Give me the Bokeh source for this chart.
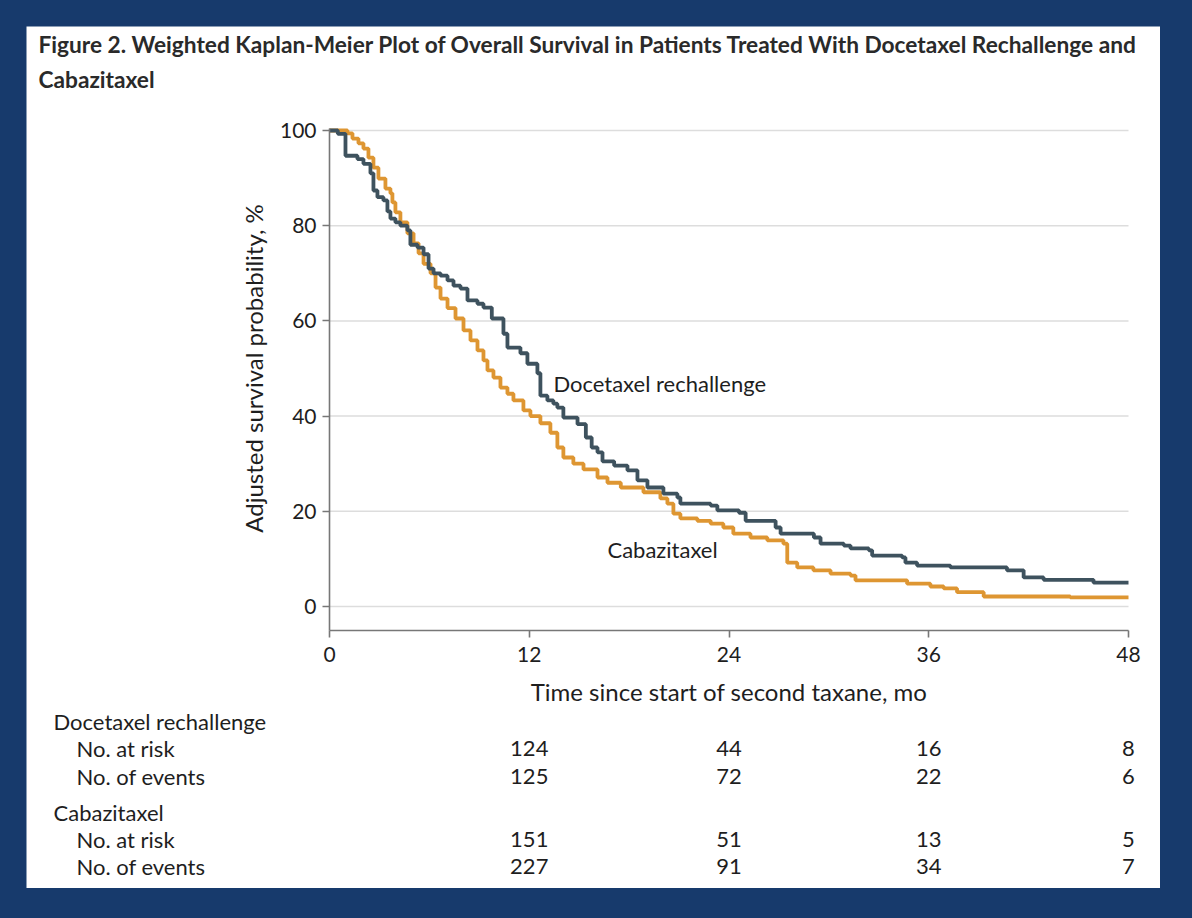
import math
from bokeh.plotting import figure
from bokeh.models import FixedTicker, Range1d, GlobalInlineStyleSheet
from bokeh.layouts import column
from bokeh.core.properties import value
from bokeh.embed import file_html
from bokeh.resources import INLINE

# ---------------- data ----------------
doc_t = [0, 0.5, 0.96, 1.68, 2.04, 2.46, 2.64, 2.88, 3.24, 3.48, 3.66, 3.96, 4.26, 4.68, 4.86,
         5.29, 5.65, 5.95, 6.25, 6.67, 7.09, 7.45, 7.87, 8.29, 8.89, 9.25, 9.75, 10.45, 10.69,
         11.47, 11.89, 12.49, 12.67, 13.09, 13.45, 13.69, 14.05, 14.9, 15.4, 15.75, 16.1, 16.4,
         17.1, 17.9, 18.5, 19.1, 20.06, 20.9, 21.08, 22.9, 23.3, 24.6, 25.0, 26.8, 27.1, 29.1,
         29.5, 30.9, 31.3, 32.4, 32.6, 34.4, 34.6, 35.3, 37.3, 40.7, 41.7, 42.9, 45.9, 48]
doc_s = [100, 99.3, 94.7, 94.0, 93.0, 91.0, 87.4, 86.0, 85.3, 83.0, 81.5, 80.7, 80.0, 79.0, 76.0,
         75.4, 74.0, 71.0, 70.0, 69.5, 68.5, 67.4, 66.8, 64.3, 63.6, 62.8, 60.5, 57.3, 54.4,
         53.2, 51.0, 49.0, 44.3, 43.3, 42.6, 41.8, 39.7, 38.3, 35.5, 33.4, 32.4, 30.5,
         29.6, 28.6, 26.5, 25.0, 23.7, 22.9, 21.6, 21.2, 20.2, 19.7, 18.0, 16.6, 15.3, 14.5,
         13.2, 12.8, 12.2, 11.8, 10.7, 10.3, 9.2, 8.6, 8.2, 7.6, 6.1, 5.6, 5.0, 5.0]

cab_t = [0, 1.08, 1.38, 1.74, 2.04, 2.34, 2.64, 2.94, 3.36, 3.66, 3.78, 3.96, 4.26, 4.68, 5.05,
         5.35, 5.65, 6.07, 6.37, 6.67, 7.09, 7.57, 8.05, 8.47, 8.89, 9.25, 9.49, 9.85, 10.27,
         10.69, 11.05, 11.65, 12.07, 12.67, 13.27, 13.69, 14.05, 14.65, 15.26, 16.1, 16.7, 17.5,
         18.86, 19.88, 20.3, 20.66, 21.08, 22.1, 22.9, 23.66, 24.26, 25.29, 26.3, 27.27, 27.5,
         28.1, 29.07, 30.1, 31.3, 31.6, 34.7, 36.1, 36.9, 37.7, 39.3, 44.5, 48]
cab_s = [100, 99.4, 98.3, 97.3, 96.2, 94.3, 92.2, 89.9, 87.8, 86.8, 84.9, 82.8, 80.7, 78.4, 76.3,
         74.2, 72.0, 70.0, 67.0, 64.7, 62.7, 60.5, 58.0, 55.9, 53.8, 51.7, 49.6, 48.1, 46.0,
         44.7, 43.3, 41.2, 40.0, 38.5, 36.5, 33.4, 31.3, 30.0, 28.8, 27.1, 26.0, 25.0,
         24.0, 22.7, 21.6, 19.5, 18.5, 18.0, 17.4, 16.6, 15.3, 14.5, 13.9, 13.2, 9.2,
         8.2, 7.6, 6.9, 6.5, 5.5, 4.8, 4.2, 3.8, 3.0, 2.1, 1.9, 1.9]

x_ticks = [0, 12, 24, 36, 48]
y_ticks = [0, 20, 40, 60, 80, 100]

risk_times = [12, 24, 36, 48]
doc_at_risk = ["124", "44", "16", "8"]
doc_events = ["125", "72", "22", "6"]
cab_at_risk = ["151", "51", "13", "5"]
cab_events = ["227", "91", "34", "7"]

title_lines = ["Figure 2.  Weighted Kaplan-Meier Plot of Overall Survival in Patients Treated With Docetaxel Rechallenge and",
               "Cabazitaxel"]
group_names = ["Docetaxel rechallenge", "Cabazitaxel"]
row_names = ["No. at risk", "No. of events"]
x_label = "Time since start of second taxane, mo"
y_label = "Adjusted survival probability, %"

# ---------------- styles / geometry ----------------
FONT = "Lato"
NAVY = "#173A6C"
DOC_COLOR = "#3E525E"
CAB_COLOR = "#DE9632"
TEXT = "#1E1E1E"
PANEL_W, PANEL_H = 1134, 862
PX_X = 799 / 48.0          # pixels per month
PX_Y = 476 / 100.0         # pixels per percent
X0_PX, Y0_PX = 303, 580    # position of (0 mo, 0 %) inside the panel


def mx(px):   # panel x pixel -> months
    return (px - X0_PX) / PX_X


def my(py):   # panel y pixel (from top) -> percent
    return (Y0_PX - py) / PX_Y


p = figure(width=PANEL_W, height=PANEL_H, output_backend="svg", toolbar_location=None,
           title=None, x_range=Range1d(mx(0), mx(PANEL_W)), y_range=Range1d(my(PANEL_H), my(0)),
           min_border_left=0, min_border_right=0, min_border_top=0, min_border_bottom=0)
p.outline_line_color = None
p.background_fill_color = "white"
p.border_fill_color = "white"
p.grid.visible = False

# axes drawn by Bokeh at fixed locations inside the panel
p.xaxis.fixed_location = -5.04
p.yaxis.fixed_location = 0
p.xaxis.bounds = (0, 48)
p.yaxis.bounds = (-5.04, 100.4)
p.xaxis.ticker = FixedTicker(ticks=x_ticks)
p.yaxis.ticker = FixedTicker(ticks=y_ticks)
for ax in (p.xaxis, p.yaxis):
    ax.axis_line_color = "#777777"
    ax.axis_line_width = 1.6
    ax.major_tick_line_color = "#777777"
    ax.major_tick_line_width = 1.6
    ax.major_tick_in = 0
    ax.major_tick_out = 7
    ax.minor_tick_line_color = None
    ax.major_label_text_font = FONT
    ax.major_label_text_font_size = "21px"
    ax.major_label_text_color = TEXT
p.xaxis.major_label_standoff = 10
p.yaxis.major_label_standoff = 6

# horizontal grid lines at the y ticks, spanning the time axis only
p.segment(x0=[0] * len(y_ticks), x1=[48] * len(y_ticks), y0=y_ticks, y1=y_ticks,
          line_color="#DDDDDD", line_width=1.5)

p.step(cab_t, cab_s, mode="after", line_color=CAB_COLOR, line_width=3.8)
p.step(doc_t, doc_s, mode="after", line_color=DOC_COLOR, line_width=3.8)


def txt(xs, ys, texts, size="22px", align="left", bold=False, angle=0.0, color=TEXT):
    p.text(x=xs, y=ys, text=texts, text_font=value(FONT), text_font_size=value(size),
           text_font_style="bold" if bold else "normal", text_color=color,
           text_align=align, text_baseline="middle", angle=angle)


# curve labels
txt([13.45, 16.7], [46.8, 12.0], group_names)

# axis labels
txt([24.0], [my(665)], [x_label], size="24px", align="center")
txt([mx(227)], [50.0], [y_label], size="24px", align="center", angle=math.pi / 2)

# title
txt([mx(12), mx(12)], [my(18), my(53)], title_lines, size="22.7px", bold=True, color="#2A2A2A")

# risk table
row_y = [my(695), my(722), my(750), my(786), my(813), my(840)]
txt([mx(27), mx(27)], [row_y[0], row_y[3]], group_names)
txt([mx(50)] * 4, [row_y[1], row_y[2], row_y[4], row_y[5]], row_names * 2)
num_x, num_y, num_txt = [], [], []
for rows, yy in ((doc_at_risk, row_y[1]), (doc_events, row_y[2]),
                 (cab_at_risk, row_y[4]), (cab_events, row_y[5])):
    for t, s in zip(risk_times, rows):
        num_x.append(t)
        num_y.append(yy)
        num_txt.append(s)
txt(num_x, num_y, num_txt, align="center")

layout = column(p, styles={"background-color": NAVY, "padding": "26px 32px 30px 26px"},
                stylesheets=[GlobalInlineStyleSheet(css="html, body { background-color: #173A6C; }")])

open("out.html", "w").write(file_html(layout, INLINE))
